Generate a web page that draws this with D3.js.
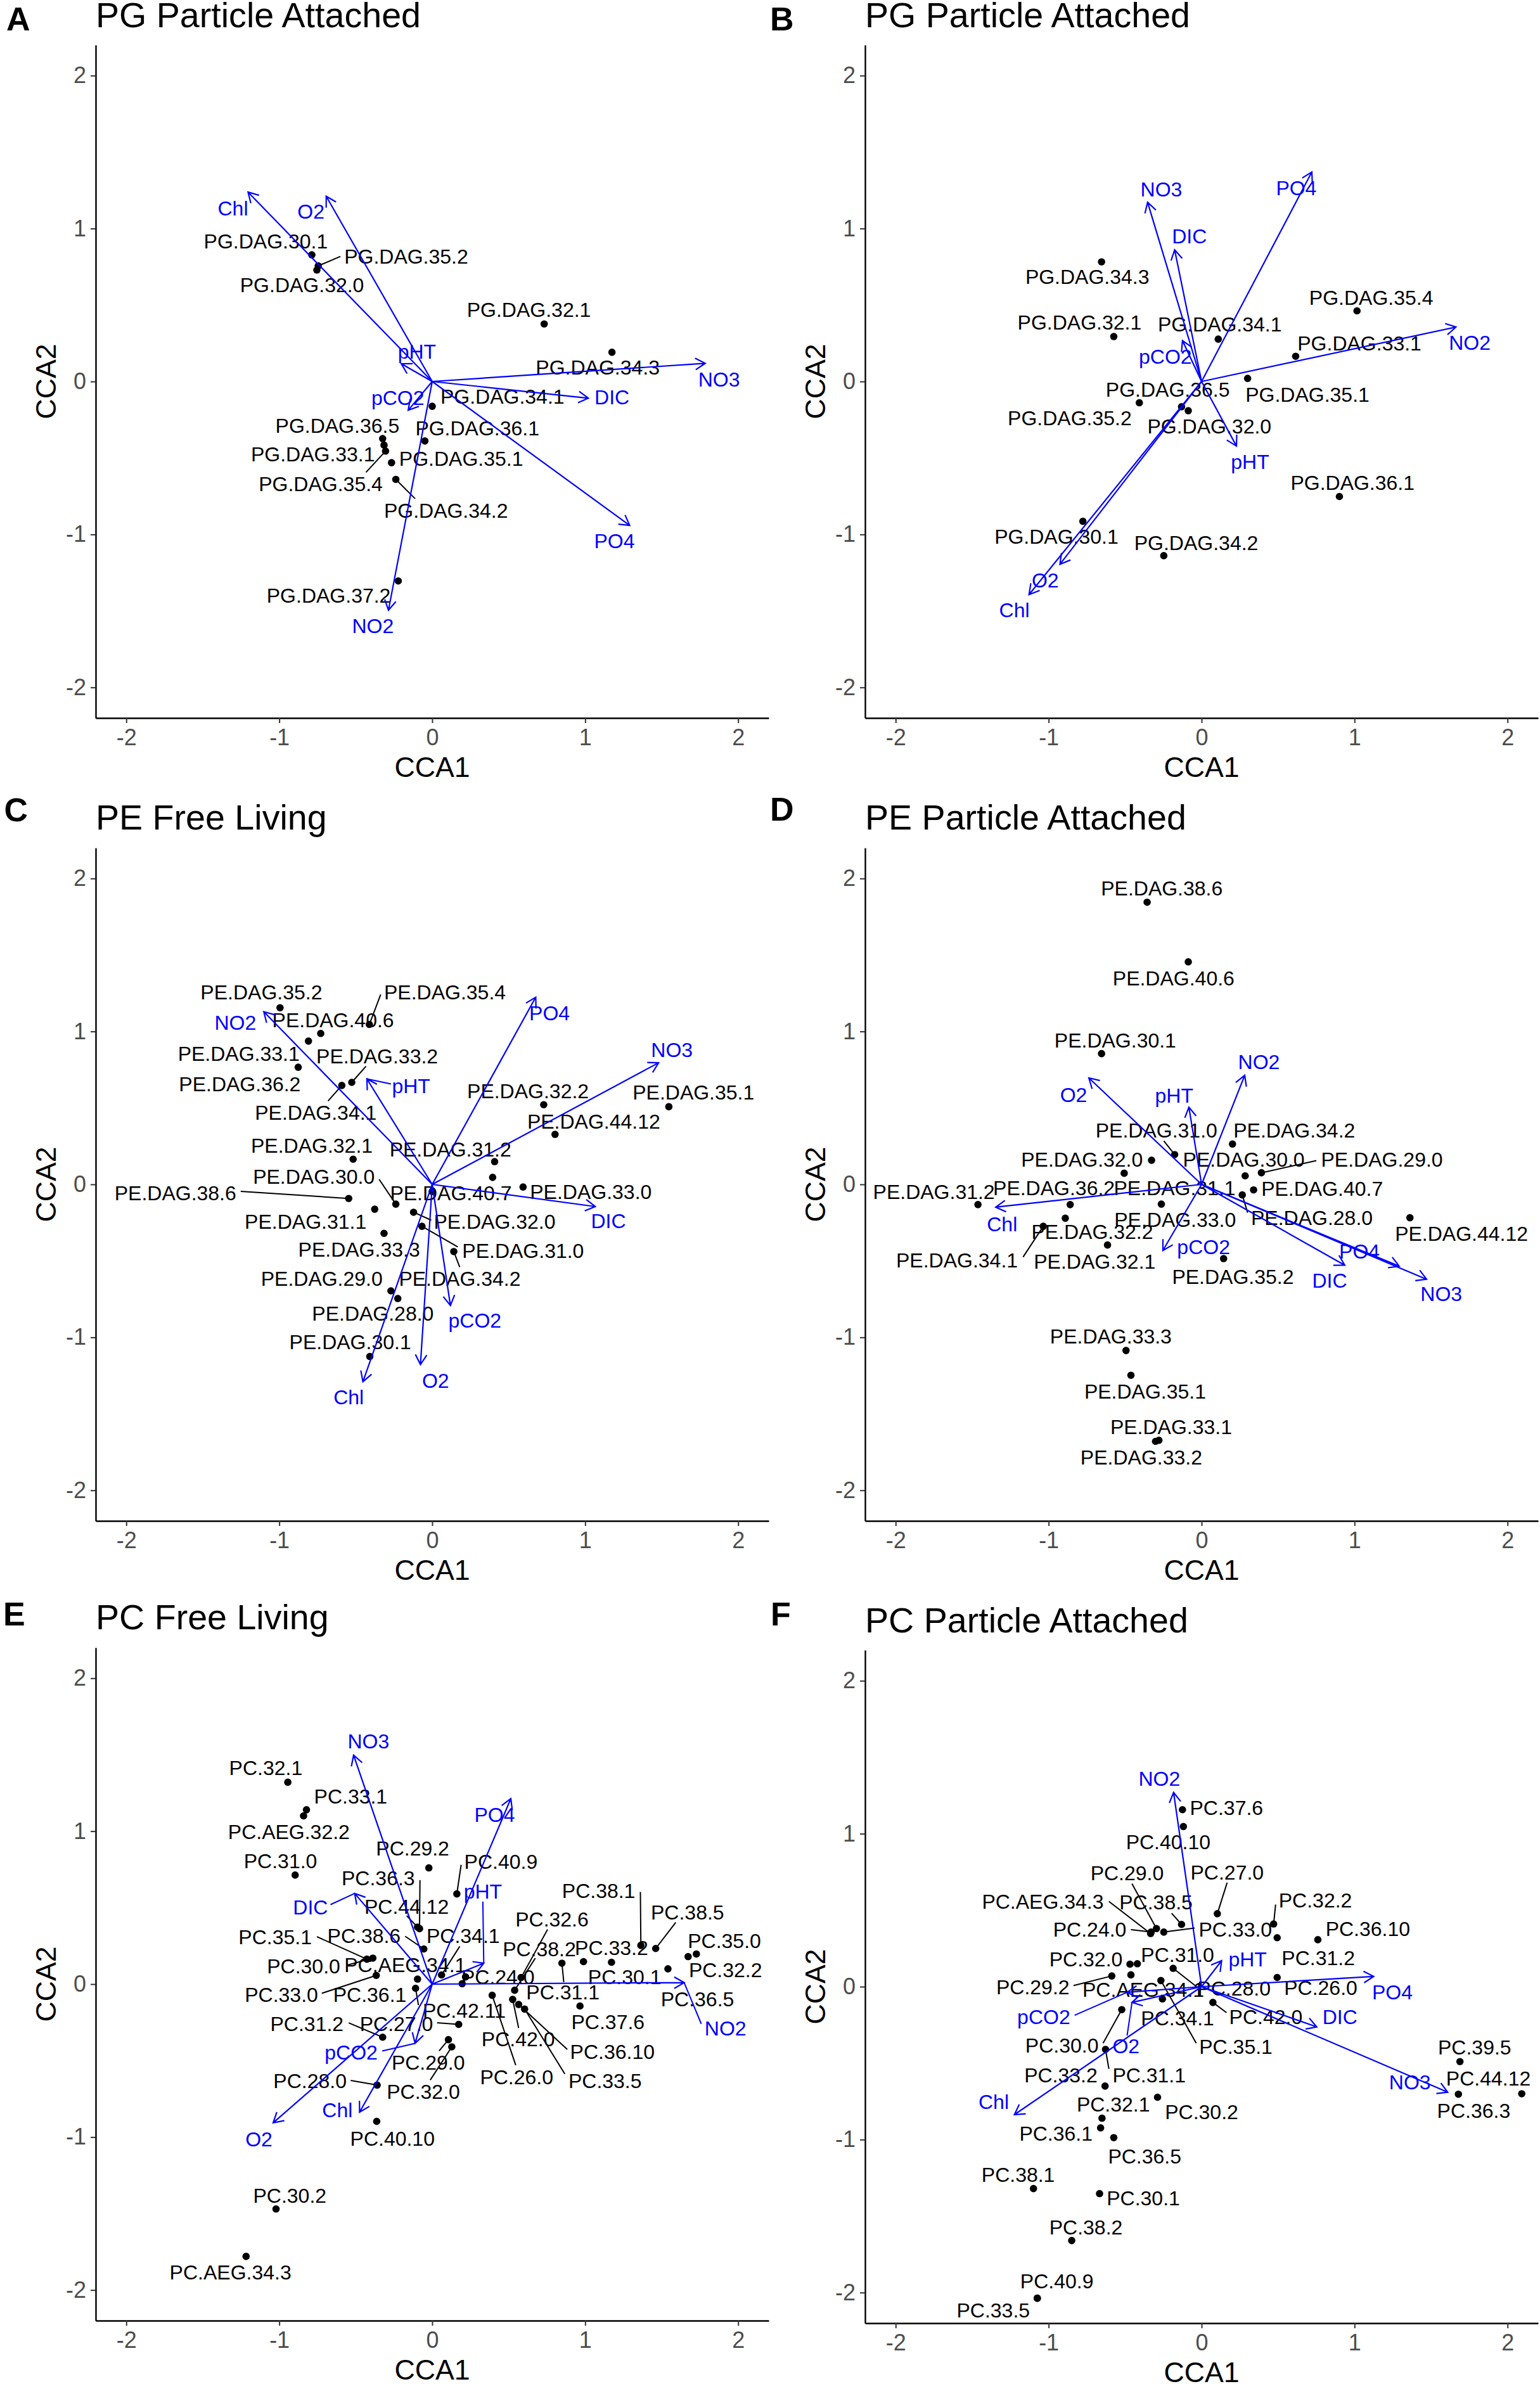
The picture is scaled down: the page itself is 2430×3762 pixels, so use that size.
<!DOCTYPE html>
<html>
<head>
<meta charset="utf-8">
<script src="https://cdn.jsdelivr.net/npm/d3@7"></script>
<style>
  body { margin: 0; background: #fff; }
  text { font-family: "Liberation Sans", Arial, sans-serif; }
</style>
</head>
<body>
<div id="chart"></div>
<script>
// rows: name, CCA1, CCA2, label CCA1, label CCA2, [leader end CCA1, leader end CCA2]
const sitesA = [
  ["PG.DAG.30.1", -0.787, 0.828, -1.088, 0.917],
  ["PG.DAG.35.2", -0.745, 0.756, -0.17, 0.818, -0.60, 0.818],
  ["PG.DAG.32.0", -0.754, 0.729, -0.851, 0.63],
  ["PG.DAG.32.1", 0.732, 0.376, 0.632, 0.469],
  ["PG.DAG.34.3", 1.175, 0.191, 1.082, 0.092],
  ["PG.DAG.34.1", 0, -0.162, 0.459, -0.099],
  ["PG.DAG.36.1", -0.048, -0.389, 0.295, -0.304],
  ["PG.DAG.36.5", -0.324, -0.373, -0.62, -0.287],
  ["PG.DAG.33.1", -0.315, -0.416, -0.78, -0.475],
  ["PG.DAG.35.4", -0.305, -0.455, -0.729, -0.667, -0.433, -0.594],
  ["PG.DAG.35.1", -0.266, -0.531, 0.189, -0.505],
  ["PG.DAG.34.2", -0.238, -0.64, 0.09, -0.845, -0.112, -0.766],
  ["PG.DAG.37.2", -0.222, -1.304, -0.677, -1.399]
];
const envA = [
  ["Chl", -1.204, 1.238, -1.303, 1.135],
  ["O2", -0.693, 1.211, -0.793, 1.112],
  ["pHT", -0.202, 0.116, -0.1, 0.195],
  ["NO3", 1.785, 0.119, 1.875, 0.013],
  ["DIC", 1.021, -0.109, 1.175, -0.102],
  ["pCO2", -0.157, -0.188, -0.225, -0.106],
  ["PO4", 1.291, -0.941, 1.191, -1.04],
  ["NO2", -0.286, -1.495, -0.388, -1.597]
];

const sitesB = [
  ["PG.DAG.34.3", -0.654, 0.782, -0.747, 0.686],
  ["PG.DAG.32.1", -0.574, 0.294, -0.798, 0.386],
  ["PG.DAG.34.1", 0.109, 0.277, 0.119, 0.373],
  ["PG.DAG.35.4", 1.016, 0.462, 1.109, 0.548],
  ["PG.DAG.33.1", 0.615, 0.165, 1.032, 0.251],
  ["PG.DAG.35.1", 0.301, 0.02, 0.692, -0.083],
  ["PG.DAG.36.5", -0.131, -0.165, -0.221, -0.053],
  ["PG.DAG.35.2", -0.407, -0.139, -0.862, -0.238],
  ["PG.DAG.32.0", -0.087, -0.191, 0.051, -0.294],
  ["PG.DAG.36.1", 0.901, -0.752, 0.987, -0.66],
  ["PG.DAG.30.1", -0.776, -0.914, -0.949, -1.013],
  ["PG.DAG.34.2", -0.247, -1.139, -0.035, -1.053]
];
const envB = [
  ["NO3", -0.353, 1.172, -0.263, 1.257],
  ["PO4", 0.721, 1.37, 0.619, 1.264],
  ["DIC", -0.176, 0.861, -0.08, 0.95],
  ["pCO2", -0.125, 0.267, -0.237, 0.162],
  ["NO2", 1.663, 0.356, 1.753, 0.254],
  ["pHT", 0.228, -0.422, 0.317, -0.525],
  ["O2", -0.926, -1.195, -1.022, -1.297],
  ["Chl", -1.128, -1.393, -1.224, -1.492]
];

const sitesC = [
  ["PE.DAG.35.2", -0.995, 1.155, -1.117, 1.257],
  ["PE.DAG.35.4", -0.411, 1.046, 0.083, 1.257, -0.337, 1.241],
  ["PE.DAG.40.6", -0.729, 0.987, -0.648, 1.076],
  ["PE.DAG.33.1", -0.809, 0.937, -1.265, 0.855],
  ["PE.DAG.36.2", -0.876, 0.766, -1.258, 0.657],
  ["PE.DAG.33.2", -0.526, 0.667, -0.36, 0.838, -0.433, 0.772],
  ["PE.DAG.34.1", -0.591, 0.647, -0.761, 0.469, -0.681, 0.545],
  ["PE.DAG.32.2", 0.729, 0.521, 0.626, 0.611],
  ["PE.DAG.44.12", 0.803, 0.327, 1.056, 0.413],
  ["PE.DAG.35.1", 1.547, 0.508, 1.708, 0.604],
  ["PE.DAG.32.1", -0.517, 0.165, -0.787, 0.254],
  ["PE.DAG.31.2", 0.408, 0.149, 0.119, 0.231],
  ["", 0.395, 0.046, 0.395, 0.046],
  ["PE.DAG.40.7", 0, -0.046, 0.122, -0.056],
  ["PE.DAG.33.0", 0.594, -0.017, 1.037, -0.046],
  ["PE.DAG.30.0", -0.238, -0.129, -0.774, 0.05, -0.347, 0.033],
  ["PE.DAG.31.1", -0.376, -0.162, -0.828, -0.241],
  ["PE.DAG.38.6", -0.546, -0.092, -1.679, -0.056, -1.252, -0.046],
  ["PE.DAG.33.3", -0.315, -0.32, -0.478, -0.426],
  ["PE.DAG.32.0", -0.122, -0.182, 0.408, -0.244, -0.006, -0.234],
  ["PE.DAG.31.0", -0.067, -0.274, 0.594, -0.432, 0.167, -0.409],
  ["PE.DAG.34.2", 0.141, -0.439, 0.18, -0.617, 0.18, -0.541],
  ["PE.DAG.29.0", -0.27, -0.696, -0.722, -0.617],
  ["PE.DAG.28.0", -0.225, -0.746, -0.388, -0.845],
  ["PE.DAG.30.1", -0.408, -1.125, -0.536, -1.03]
];
const envC = [
  ["NO2", -1.101, 1.129, -1.287, 1.059],
  ["PO4", 0.677, 1.224, 0.767, 1.122],
  ["NO3", 1.48, 0.795, 1.567, 0.881],
  ["pHT", -0.427, 0.69, -0.138, 0.644, -0.27, 0.657],
  ["DIC", 1.066, -0.145, 1.152, -0.238],
  ["pCO2", 0.119, -0.792, 0.279, -0.888],
  ["O2", -0.077, -1.178, 0.022, -1.281],
  ["Chl", -0.453, -1.29, -0.546, -1.389]
];

const sitesD = [
  ["PE.DAG.38.6", -0.356, 1.845, -0.26, 1.937],
  ["PE.DAG.40.6", -0.087, 1.455, -0.183, 1.35],
  ["PE.DAG.30.1", -0.654, 0.855, -0.564, 0.944],
  ["PE.DAG.31.0", -0.176, 0.195, -0.295, 0.353, -0.247, 0.284],
  ["PE.DAG.34.2", 0.202, 0.264, 0.606, 0.356],
  ["PE.DAG.32.0", -0.327, 0.158, -0.782, 0.162],
  ["PE.DAG.31.1", -0.506, 0.073, -0.176, -0.023],
  ["PE.DAG.30.0", 0.285, 0.056, 0.276, 0.162],
  ["PE.DAG.29.0", 0.391, 0.076, 1.179, 0.162, 0.75, 0.155],
  ["PE.DAG.40.7", 0.34, -0.036, 0.788, -0.026],
  ["PE.DAG.28.0", 0.266, -0.069, 0.721, -0.218, 0.301, -0.185],
  ["PE.DAG.31.2", -1.462, -0.132, -1.75, -0.046],
  ["PE.DAG.36.2", -0.859, -0.132, -0.965, -0.023],
  ["PE.DAG.32.2", -0.891, -0.221, -0.715, -0.31],
  ["PE.DAG.32.1", -0.615, -0.396, -0.699, -0.502],
  ["PE.DAG.34.1", -1.035, -0.274, -1.599, -0.495, -1.167, -0.475],
  ["PE.DAG.33.0", -0.263, -0.129, -0.173, -0.228],
  ["PE.DAG.35.2", 0.144, -0.485, 0.205, -0.604],
  ["PE.DAG.44.12", 1.362, -0.218, 1.699, -0.32],
  ["PE.DAG.33.3", -0.494, -1.086, -0.593, -0.993],
  ["PE.DAG.35.1", -0.462, -1.248, -0.369, -1.353],
  ["PE.DAG.33.1", -0.279, -1.673, -0.199, -1.584],
  ["PE.DAG.33.2", -0.301, -1.68, -0.394, -1.782]
];
const envD = [
  ["O2", -0.737, 0.696, -0.837, 0.587],
  ["NO2", 0.282, 0.713, 0.375, 0.802],
  ["pHT", -0.083, 0.505, -0.179, 0.584],
  ["Chl", -1.346, -0.149, -1.304, -0.257],
  ["pCO2", -0.253, -0.432, 0.013, -0.409],
  ["DIC", 0.936, -0.528, 0.837, -0.627],
  ["PO4", 1.292, -0.535, 1.032, -0.436],
  ["NO3", 1.471, -0.62, 1.567, -0.716]
];

const sitesE = [
  ["PC.32.1", -0.944, 1.32, -1.088, 1.413],
  ["PC.33.1", -0.822, 1.14, -0.533, 1.227],
  ["PC.AEG.32.2", -0.841, 1.1, -0.937, 0.997],
  ["PC.31.0", -0.896, 0.713, -0.992, 0.807],
  ["PC.29.2", -0.022, 0.76, -0.128, 0.887],
  ["PC.40.9", 0.161, 0.59, 0.449, 0.8, 0.189, 0.78],
  ["PC.36.3", -0.083, 0.363, -0.353, 0.693, -0.08, 0.68],
  ["PC.44.12", -0.096, 0.373, -0.167, 0.507, -0.167, 0.447],
  ["PC.38.6", -0.055, 0.23, -0.446, 0.317, -0.177, 0.313],
  ["PC.34.1", 0.061, 0.06, 0.202, 0.317, 0.18, 0.247],
  ["PC.35.1", -0.427, 0.163, -1.027, 0.31, -0.754, 0.31],
  ["PC.30.0", -0.388, 0.17, -0.841, 0.12, -0.559, 0.123],
  ["PC.AEG.34.1", -0.096, 0.033, -0.177, 0.127],
  ["PC.33.0", -0.366, 0.057, -0.986, -0.067, -0.722, -0.06],
  ["PC.36.1", -0.109, -0.027, -0.408, -0.067, -0.09, -0.137],
  ["PC.42.11", 0.196, 0.003, 0.209, -0.173],
  ["PC.24.0", 0.218, 0.047, 0.43, 0.047],
  ["PC.27.0", 0.173, -0.263, -0.234, -0.257, 0.032, -0.253],
  ["PC.29.0", 0.106, -0.363, -0.026, -0.513, 0.045, -0.437],
  ["PC.32.0", 0.128, -0.41, -0.058, -0.703, -0.013, -0.627],
  ["PC.38.1", 1.364, 0.253, 1.088, 0.61, 1.361, 0.603],
  ["PC.38.5", 1.461, 0.233, 1.669, 0.47, 1.592, 0.403],
  ["PC.35.0", 1.727, 0.197, 1.91, 0.283],
  ["PC.32.2", 1.673, 0.18, 1.917, 0.093],
  ["PC.36.5", 1.541, 0.1, 1.734, -0.097],
  ["PC.33.2", 1.172, 0.143, 1.172, 0.24],
  ["PC.30.1", 0.989, 0.147, 1.258, 0.047],
  ["PC.31.1", 0.848, 0.137, 0.854, -0.053, 0.86, 0.013],
  ["PC.37.6", 0.966, -0.143, 1.149, -0.247],
  ["PC.36.10", 0.565, -0.133, 1.178, -0.44, 0.883, -0.427],
  ["PC.33.5", 0.604, -0.163, 1.13, -0.63, 0.867, -0.587],
  ["PC.42.0", 0.526, -0.1, 0.562, -0.36, 0.565, -0.287],
  ["PC.26.0", 0.392, -0.073, 0.552, -0.607, 0.546, -0.53],
  ["PC.32.6", 0.581, 0.043, 0.783, 0.423, 0.754, 0.357],
  ["PC.38.2", 0.539, -0.04, 0.7, 0.23, 0.674, 0.17],
  ["PC.31.2", -0.324, -0.347, -0.819, -0.257, -0.546, -0.253],
  ["PC.28.0", -0.36, -0.66, -0.799, -0.633, -0.533, -0.63],
  ["PC.40.10", -0.363, -0.897, -0.26, -1.01],
  ["PC.30.2", -1.021, -1.47, -0.931, -1.383],
  ["PC.AEG.34.3", -1.217, -1.78, -1.319, -1.883]
];
const envE = [
  ["NO3", -0.514, 1.497, -0.417, 1.587],
  ["PO4", 0.514, 1.213, 0.408, 1.11],
  ["DIC", -0.507, 0.593, -0.796, 0.503, -0.665, 0.52],
  ["pHT", 0.337, 0.137, 0.331, 0.607, 0.331, 0.54],
  ["NO2", 1.647, 0.01, 1.917, -0.287, 1.759, -0.26],
  ["pCO2", -0.112, -0.387, -0.53, -0.447, -0.327, -0.437],
  ["Chl", -0.475, -0.837, -0.62, -0.823],
  ["O2", -1.04, -0.907, -1.133, -1.013]
];

const sitesF = [
  ["PC.37.6", -0.125, 1.157, 0.163, 1.17],
  ["PC.40.10", -0.119, 1.047, -0.218, 0.947],
  ["PC.29.0", -0.295, 0.38, -0.487, 0.743, -0.455, 0.673],
  ["PC.27.0", 0.103, 0.477, 0.167, 0.747, 0.167, 0.68],
  ["PC.AEG.34.3", -0.333, 0.347, -1.038, 0.557, -0.606, 0.557],
  ["PC.38.5", -0.131, 0.407, -0.298, 0.553, -0.196, 0.48],
  ["PC.24.0", -0.33, 0.357, -0.731, 0.373, -0.462, 0.373],
  ["PC.33.0", -0.247, 0.357, 0.221, 0.377, -0.045, 0.383],
  ["PC.32.2", 0.471, 0.41, 0.744, 0.567, 0.484, 0.537],
  ["PC.36.10", 0.76, 0.307, 1.087, 0.38],
  ["PC.31.2", 0.494, 0.32, 0.763, 0.19],
  ["PC.31.0", -0.42, 0.15, -0.157, 0.21],
  ["PC.32.0", -0.468, 0.147, -0.756, 0.18],
  ["PC.29.2", -0.587, 0.07, -1.103, -0.003, -0.837, 0.007],
  ["PC.AEG.34.1", -0.462, 0.077, -0.381, -0.02],
  ["PC.28.0", -0.186, 0.12, 0.212, -0.01, -0.029, -0.003],
  ["PC.26.0", 0.494, 0.06, 0.779, -0.007],
  ["PC.34.1", -0.256, -0.08, -0.157, -0.207],
  ["PC.35.1", -0.266, 0.04, 0.224, -0.39, -0.035, -0.37],
  ["PC.42.0", 0.074, -0.103, 0.42, -0.197, 0.163, -0.17],
  ["PC.30.0", -0.522, -0.15, -0.913, -0.383, -0.644, -0.37],
  ["PC.31.1", -0.628, -0.41, -0.343, -0.577, -0.606, -0.537],
  ["PC.33.2", -0.631, -0.65, -0.92, -0.577],
  ["PC.32.1", -0.651, -0.86, -0.577, -0.77],
  ["PC.30.2", -0.288, -0.723, 0, -0.817],
  ["PC.36.1", -0.66, -0.923, -0.952, -0.96],
  ["PC.36.5", -0.574, -0.987, -0.372, -1.11],
  ["PC.38.1", -1.099, -1.32, -1.199, -1.227],
  ["PC.30.1", -0.667, -1.353, -0.381, -1.383],
  ["PC.38.2", -0.849, -1.66, -0.756, -1.573],
  ["PC.40.9", -1.074, -2.037, -0.946, -1.923],
  ["PC.33.5", -1.074, -2.037, -1.362, -2.113],
  ["PC.39.5", 1.689, -0.49, 1.785, -0.397],
  ["PC.44.12", 2.093, -0.7, 1.875, -0.6],
  ["PC.36.3", 1.679, -0.703, 1.779, -0.81]
];
const envF = [
  ["NO2", -0.183, 1.27, -0.276, 1.36],
  ["pHT", 0.131, 0.17, 0.301, 0.18],
  ["PO4", 1.125, 0.067, 1.247, -0.037],
  ["DIC", 0.753, -0.263, 0.904, -0.197],
  ["NO3", 1.609, -0.69, 1.362, -0.623],
  ["pCO2", -0.487, -0.037, -1.032, -0.197, -0.83, -0.187],
  ["O2", -0.455, -0.103, -0.494, -0.387, -0.487, -0.32],
  ["Chl", -1.224, -0.837, -1.359, -0.753]
];

const ticks = [-2, -1, 0, 1, 2];
const limits = [-2.2, 2.2];

const panels = [
  { letter: "A", title: "PG Particle Attached", sites: sitesA, env: envA, left: 151, top: 71, titleY: 43, letterX: 10, letterY: 47.5 },
  { letter: "B", title: "PG Particle Attached", sites: sitesB, env: envB, left: 1365, top: 71, titleY: 43, letterX: 1215, letterY: 47.5 },
  { letter: "C", title: "PE Free Living", sites: sitesC, env: envC, left: 151, top: 1338, titleY: 1309, letterX: 6.5, letterY: 1296 },
  { letter: "D", title: "PE Particle Attached", sites: sitesD, env: envD, left: 1365, top: 1338, titleY: 1309, letterX: 1215, letterY: 1295 },
  { letter: "E", title: "PC Free Living", sites: sitesE, env: envE, left: 151, top: 2600, titleY: 2571, letterX: 5, letterY: 2565 },
  { letter: "F", title: "PC Particle Attached", sites: sitesF, env: envF, left: 1365, top: 2604, titleY: 2576, letterX: 1216, letterY: 2565 }
];

const panelSize = 1062, labelSize = 32, blue = "#0000ff", headLength = 18;

const svg = d3.select("#chart").append("svg")
  .attr("width", 2430)
  .attr("height", 3762)
  .style("display", "block");

panels.forEach(drawPanel);

function drawPanel(p) {
  const bottom = p.top + panelSize;
  const x = d3.scaleLinear().domain(limits).range([p.left, p.left + panelSize]);
  const y = d3.scaleLinear().domain(limits).range([bottom, p.top]);
  const g = svg.append("g");

  // panel letter and title
  g.append("text")
    .attr("x", p.letterX)
    .attr("y", p.letterY)
    .attr("font-size", 52)
    .attr("font-weight", "bold")
    .text(p.letter);
  g.append("text")
    .attr("x", p.left)
    .attr("y", p.titleY)
    .attr("font-size", 55.6)
    .text(p.title);

  // axes
  const xAxis = g.append("g")
    .attr("transform", `translate(0,${bottom})`)
    .call(d3.axisBottom(x).tickValues(ticks).tickFormat(d => String(d)).tickSize(8).tickSizeOuter(0).tickPadding(9));
  const yAxis = g.append("g")
    .attr("transform", `translate(${p.left},0)`)
    .call(d3.axisLeft(y).tickValues(ticks).tickFormat(d => String(d)).tickSize(8).tickSizeOuter(0).tickPadding(7));
  [xAxis, yAxis].forEach(a => {
    a.selectAll("path").attr("stroke", "#000").attr("stroke-width", 2.4);
    a.selectAll("line").attr("stroke", "#333").attr("stroke-width", 2);
    a.selectAll("text")
      .attr("fill", "#4d4d4d")
      .attr("font-size", 36)
      .style("font-family", '"Liberation Sans", Arial, sans-serif');
  });

  g.append("text")
    .attr("x", x(0))
    .attr("y", bottom + 93)
    .attr("text-anchor", "middle")
    .attr("font-size", 44.7)
    .text("CCA1");
  g.append("text")
    .attr("transform", `translate(${p.left - 63},${y(0)}) rotate(-90)`)
    .attr("text-anchor", "middle")
    .attr("font-size", 44.7)
    .text("CCA2");

  // leader lines, points, point labels
  g.selectAll(".lead")
    .data(p.sites.filter(d => d.length > 5))
    .join("line")
    .attr("x1", d => x(d[1]))
    .attr("y1", d => y(d[2]))
    .attr("x2", d => x(d[5]))
    .attr("y2", d => y(d[6]))
    .attr("stroke", "#000")
    .attr("stroke-width", 2);
  g.selectAll(".pt")
    .data(p.sites)
    .join("circle")
    .attr("cx", d => x(d[1]))
    .attr("cy", d => y(d[2]))
    .attr("r", 5.8)
    .attr("fill", "#000");
  g.selectAll(".site")
    .data(p.sites.filter(d => d[0]))
    .join("text")
    .attr("x", d => x(d[3]))
    .attr("y", d => y(d[4]))
    .attr("dy", "0.36em")
    .attr("text-anchor", "middle")
    .attr("font-size", labelSize)
    .text(d => d[0]);

  // biplot arrows
  const arrow = d => {
    const x0 = x(0), y0 = y(0), x1 = x(d[1]), y1 = y(d[2]);
    const a = Math.atan2(y1 - y0, x1 - x0);
    const barb = s => [x1 - headLength * Math.cos(a + s * Math.PI / 6), y1 - headLength * Math.sin(a + s * Math.PI / 6)];
    return d3.line()([barb(1), [x1, y1], barb(-1)]) + d3.line()([[x0, y0], [x1, y1]]);
  };
  g.selectAll(".arrow")
    .data(p.env)
    .join("path")
    .attr("d", arrow)
    .attr("fill", "none")
    .attr("stroke", blue)
    .attr("stroke-width", 2.2);
  g.selectAll(".envLead")
    .data(p.env.filter(d => d.length > 5))
    .join("line")
    .attr("x1", d => x(d[1]))
    .attr("y1", d => y(d[2]))
    .attr("x2", d => x(d[5]))
    .attr("y2", d => y(d[6]))
    .attr("stroke", blue)
    .attr("stroke-width", 2);
  g.selectAll(".env")
    .data(p.env)
    .join("text")
    .attr("x", d => x(d[3]))
    .attr("y", d => y(d[4]))
    .attr("dy", "0.36em")
    .attr("text-anchor", "middle")
    .attr("font-size", labelSize)
    .attr("fill", blue)
    .text(d => d[0]);
}
</script>
</body>
</html>
